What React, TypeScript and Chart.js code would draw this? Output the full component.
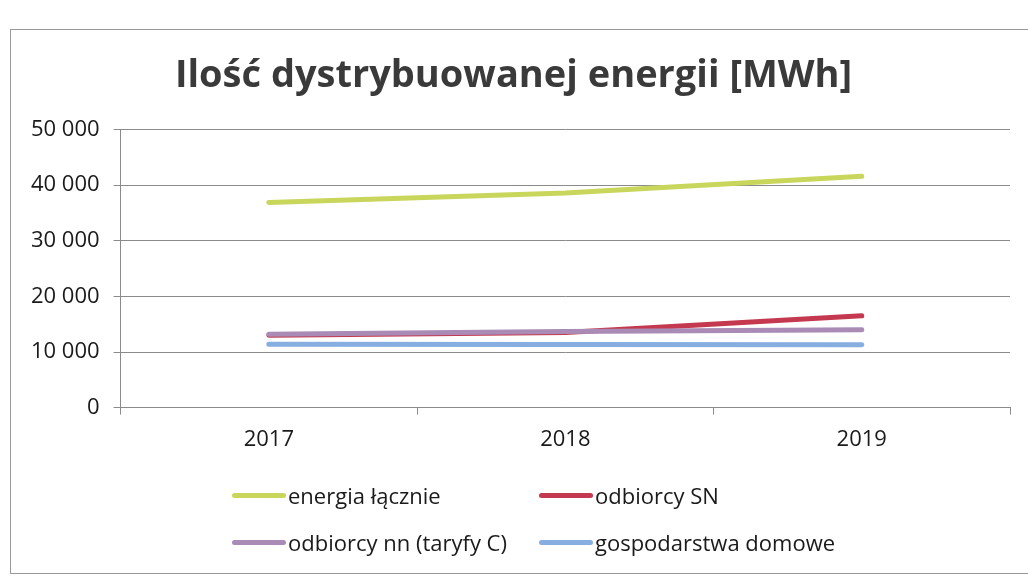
import React, { useEffect, useRef } from "react";
import { Chart, registerables } from "chart.js";

Chart.register(...registerables);

const TITLE = "Ilość dystrybuowanej energii [MWh]";
const YEARS = ["2017", "2018", "2019"];
const SERIES_NAMES = ["energia łącznie", "odbiorcy SN", "odbiorcy nn (taryfy C)", "gospodarstwa domowe"];
const ENERGIA = [36900, 38600, 41600];
const ODBIORCY_SN = [13000, 13500, 16500];
const ODBIORCY_NN = [13200, 13700, 14000];
const GOSPODARSTWA = [11400, 11350, 11300];
const COLORS = ["#c9d65c", "#c4394f", "#a98bb6", "#86aee0"];
const Y_TICKS = [0, 10000, 20000, 30000, 40000, 50000];

const FONT = "'Open Sans', 'DejaVu Sans', sans-serif";

function fmt(v: number) {
  return String(v).replace(/\B(?=(\d{3})+(?!\d))/g, " ");
}

export default function App() {
  const ref = useRef<HTMLCanvasElement | null>(null);

  useEffect(() => {
    if (!ref.current) return;
    const values = [ENERGIA, ODBIORCY_SN, ODBIORCY_NN, GOSPODARSTWA];
    const order = [0, 2, 1, 3];
    const chart = new Chart(ref.current, {
      type: "line",
      data: {
        labels: YEARS,
        datasets: order.map((i) => ({
          label: SERIES_NAMES[i],
          data: values[i],
          borderColor: COLORS[i],
          backgroundColor: COLORS[i],
          borderWidth: 5,
          borderCapStyle: "round" as const,
          borderJoinStyle: "round" as const,
          pointRadius: 0,
          tension: 0,
          fill: false,
        })),
      },
      options: {
        animation: false,
        responsive: false,
        maintainAspectRatio: false,
        layout: { padding: { left: 17, right: 18, top: 0, bottom: 112 } },
        plugins: {
          legend: { display: false },
          tooltip: { enabled: false },
          title: {
            display: true,
            text: TITLE,
            color: "#3a3a3a",
            font: { family: FONT, size: 38, weight: "bold", lineHeight: 1.2 },
            padding: { top: 53, bottom: 31 },
          },
        },
        scales: {
          x: {
            offset: true,
            grid: {
              display: true,
              offset: true,
              drawOnChartArea: false,
              drawTicks: true,
              tickLength: 7,
              color: "#8a8a8a",
            },
            border: { display: true, color: "#8a8a8a", width: 1 },
            ticks: {
              color: "#1a1a1a",
              font: { family: FONT, size: 22 },
              padding: 12,
              maxRotation: 0,
            },
          },
          y: {
            min: 0,
            max: 50000,
            afterBuildTicks: (axis: any) => {
              axis.ticks = Y_TICKS.map((v) => ({ value: v }));
            },
            grid: {
              color: "#8a8a8a",
              lineWidth: 1,
              drawTicks: true,
              tickLength: 7,
            },
            border: { display: true, color: "#8a8a8a", width: 1 },
            ticks: {
              color: "#1a1a1a",
              font: { family: FONT, size: 22 },
              padding: 14,
              callback: (v: any) => fmt(Number(v)),
            },
          },
        },
      },
    });
    return () => chart.destroy();
  }, []);

  const legendItems = [
    { i: 0, left: 232, top: 495 },
    { i: 1, left: 539, top: 495 },
    { i: 2, left: 232, top: 542 },
    { i: 3, left: 539, top: 542 },
  ];

  return (
    <div style={{ position: "fixed", left: 0, top: 0, width: 1028, height: 577, background: "#fff", overflow: "hidden" }}>
      <div
        style={{
          position: "absolute",
          left: 10,
          top: 29,
          width: 1040,
          height: 543,
          borderLeft: "1px solid #999",
          borderTop: "1px solid #999",
          borderBottom: "1px solid #999",
        }}
      />
      <canvas ref={ref} width={1028} height={577} style={{ position: "absolute", left: 0, top: 0, width: 1028, height: 577 }} />
      {legendItems.map(({ i, left, top }) => (
        <div
          key={i}
          style={{
            position: "absolute",
            left,
            top: top - 16,
            height: 32,
            display: "flex",
            alignItems: "center",
            fontFamily: FONT,
            fontSize: 22,
            color: "#1a1a1a",
            whiteSpace: "nowrap",
          }}
        >
          <span style={{ display: "inline-block", width: 54, height: 5, borderRadius: 3, background: COLORS[i], marginRight: 2 }} />
          <span>{SERIES_NAMES[i]}</span>
        </div>
      ))}
    </div>
  );
}
